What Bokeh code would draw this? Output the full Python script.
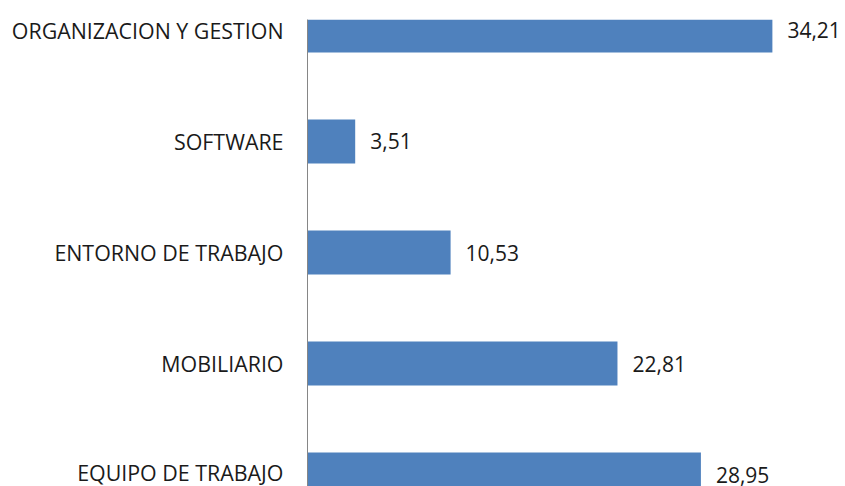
from bokeh.plotting import figure
from bokeh.models import Range1d, FixedTicker, ColumnDataSource
from bokeh.core.properties import value
from bokeh.embed import file_html
from bokeh.resources import INLINE

categories = ["EQUIPO DE TRABAJO", "MOBILIARIO", "ENTORNO DE TRABAJO", "SOFTWARE", "ORGANIZACION Y GESTION"]
values = [28.95, 22.81, 10.53, 3.51, 34.21]

pos = list(range(len(categories)))
labels = [f"{v:.2f}".replace(".", ",") for v in values]

src = ColumnDataSource(dict(y=pos, v=values, lab=labels))

p = figure(width=845, height=486, output_backend="svg", toolbar_location=None,
           x_range=Range1d(0, 39.59), y_range=Range1d(-0.108, 4.099),
           x_axis_location=None, min_border_left=307, min_border_top=19,
           min_border_bottom=0, min_border_right=0)
p.outline_line_color = None
p.xgrid.visible = False
p.ygrid.visible = False
p.background_fill_color = "white"
p.border_fill_color = "white"

p.hbar(y="y", right="v", left=0, height=0.396, source=src,
       fill_color="#4F81BD", line_color=None)
p.text(x="v", y="y", text="lab", source=src, x_offset=15,
       text_align="left", text_baseline="middle",
       text_font=value("Open Sans"), text_font_size="21px", text_color="#1a1a1a")

ax = p.yaxis[0]
ax.ticker = FixedTicker(ticks=pos)
ax.major_label_overrides = {i: c for i, c in zip(pos, categories)}
ax.major_tick_in = 0
ax.major_tick_out = 0
ax.minor_tick_in = 0
ax.minor_tick_out = 0
ax.major_label_standoff = 24
ax.axis_line_color = "#868686"
ax.axis_line_width = 1
ax.major_label_text_font = "Open Sans"
ax.major_label_text_font_size = "21.4px"
ax.major_label_text_color = "#1a1a1a"

open("out.html", "w").write(file_html(p, INLINE))
